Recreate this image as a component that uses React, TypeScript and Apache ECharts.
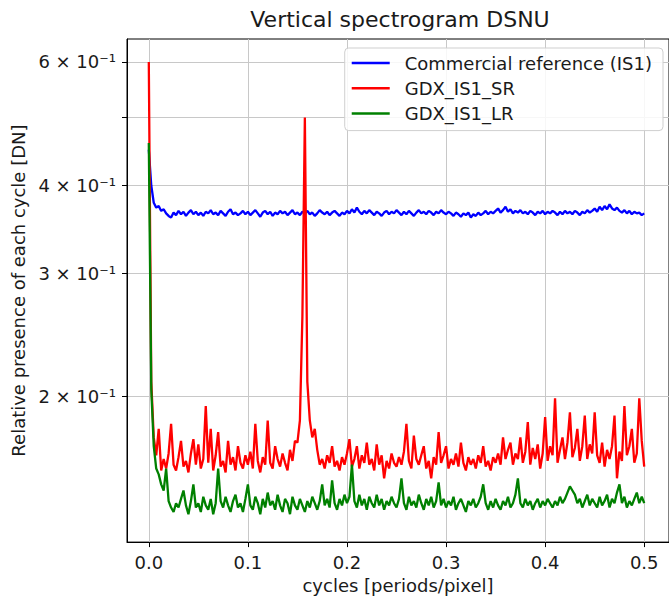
import React, { useEffect, useRef } from "react";
import * as echarts from "echarts";

const TITLE = "Vertical spectrogram DSNU";
const X_NAME = "cycles [periods/pixel]";
const Y_NAME = "Relative presence of each cycle [DN]";
const SERIES_NAMES = ["Commercial reference (IS1)", "GDX_IS1_SR", "GDX_IS1_LR"];
const SERIES_COLORS = ["#0000ff", "#ff0000", "#008000"];

const FREQ_STEP = 0.0025;
const X_TICKS = [0, 0.1, 0.2, 0.3, 0.4, 0.5];
const Y_TICKS = [0.2, 0.3, 0.4, 0.5, 0.6];
const Y_LABEL_TICKS = [0.2, 0.3, 0.4, 0.6];

const BLUE = [
  0.45, 0.40, 0.378, 0.372, 0.374, 0.368, 0.370, 0.365, 0.362, 0.360,
  0.366, 0.363, 0.368, 0.364, 0.367, 0.362, 0.366, 0.369, 0.364, 0.367,
  0.363, 0.366, 0.362, 0.367, 0.365, 0.369, 0.364, 0.366, 0.363, 0.368,
  0.365, 0.362, 0.367, 0.370, 0.364, 0.366, 0.363, 0.365, 0.368, 0.364,
  0.367, 0.363, 0.366, 0.369, 0.365, 0.361, 0.366, 0.368, 0.364, 0.367,
  0.362, 0.366, 0.364, 0.368, 0.365, 0.367, 0.363, 0.366, 0.369, 0.364,
  0.366, 0.363, 0.367, 0.365, 0.368, 0.364, 0.366, 0.362, 0.365, 0.369,
  0.366, 0.364, 0.367, 0.363, 0.366, 0.368, 0.365, 0.362, 0.366, 0.364,
  0.368, 0.365, 0.370, 0.366, 0.372, 0.367, 0.364, 0.368, 0.365, 0.369,
  0.366, 0.363, 0.367, 0.365, 0.362, 0.366, 0.368, 0.364, 0.367, 0.365,
  0.369, 0.366, 0.363, 0.367, 0.364, 0.368, 0.365, 0.362, 0.366, 0.369,
  0.365, 0.367, 0.364, 0.368, 0.366, 0.363, 0.367, 0.365, 0.369, 0.366,
  0.364, 0.367, 0.365, 0.362, 0.366, 0.364, 0.361, 0.365, 0.363, 0.366,
  0.360, 0.364, 0.362, 0.366, 0.363, 0.365, 0.368, 0.364, 0.367, 0.365,
  0.368, 0.371, 0.366, 0.369, 0.373, 0.367, 0.370, 0.365, 0.368, 0.366,
  0.369, 0.365, 0.367, 0.364, 0.368, 0.366, 0.363, 0.367, 0.365, 0.368,
  0.364, 0.367, 0.365, 0.368, 0.366, 0.363, 0.367, 0.364, 0.368, 0.365,
  0.367, 0.364, 0.368, 0.366, 0.363, 0.367, 0.365, 0.369, 0.366, 0.368,
  0.371, 0.367, 0.373, 0.369, 0.374, 0.370, 0.376, 0.371, 0.369, 0.372,
  0.368, 0.366, 0.369, 0.365, 0.368, 0.364, 0.367, 0.365, 0.366, 0.363,
  0.365,
];

const RED = [
  0.60, 0.21, 0.175, 0.165, 0.180, 0.157, 0.163, 0.158, 0.166, 0.183,
  0.160, 0.157, 0.164, 0.173, 0.159, 0.162, 0.156, 0.166, 0.174, 0.160,
  0.171, 0.158, 0.163, 0.194, 0.161, 0.180, 0.157, 0.165, 0.178, 0.159,
  0.162, 0.156, 0.173, 0.160, 0.164, 0.157, 0.170, 0.161, 0.158, 0.165,
  0.160, 0.167, 0.158, 0.183, 0.162, 0.156, 0.164, 0.160, 0.185, 0.161,
  0.158, 0.170, 0.163, 0.159, 0.166, 0.161, 0.157, 0.168, 0.162, 0.173,
  0.172, 0.185, 0.26, 0.50, 0.21, 0.185, 0.175, 0.180, 0.168, 0.160,
  0.163, 0.158, 0.165, 0.161, 0.170, 0.159, 0.162, 0.157, 0.164, 0.160,
  0.166, 0.174, 0.159, 0.163, 0.170, 0.158, 0.165, 0.161, 0.172, 0.160,
  0.163, 0.157, 0.171, 0.160, 0.165, 0.153, 0.162, 0.158, 0.166, 0.161,
  0.159, 0.164, 0.160, 0.167, 0.183, 0.162, 0.158, 0.176, 0.163, 0.160,
  0.165, 0.170, 0.158, 0.162, 0.153, 0.164, 0.160, 0.178, 0.161, 0.165,
  0.170, 0.158, 0.163, 0.160, 0.166, 0.159, 0.172, 0.161, 0.157, 0.164,
  0.160, 0.163, 0.158, 0.165, 0.161, 0.170, 0.159, 0.162, 0.157, 0.164,
  0.161, 0.166, 0.160, 0.175, 0.163, 0.168, 0.172, 0.160, 0.166, 0.163,
  0.175, 0.161, 0.167, 0.184, 0.160, 0.169, 0.163, 0.171, 0.158, 0.166,
  0.187, 0.162, 0.170, 0.165, 0.199, 0.161, 0.168, 0.175, 0.163, 0.172,
  0.190, 0.164, 0.169, 0.180, 0.162, 0.170, 0.188, 0.163, 0.171, 0.166,
  0.190, 0.165, 0.161, 0.172, 0.159, 0.168, 0.163, 0.170, 0.188, 0.153,
  0.167, 0.162, 0.194, 0.165, 0.170, 0.180, 0.161, 0.166, 0.199, 0.173,
  0.159,
];

const GREEN = [
  0.46, 0.205, 0.170, 0.158, 0.155, 0.150, 0.147, 0.158, 0.142, 0.139,
  0.137, 0.141, 0.139, 0.143, 0.147, 0.140, 0.136, 0.142, 0.150, 0.139,
  0.141, 0.137, 0.144, 0.140, 0.138, 0.143, 0.136, 0.141, 0.158, 0.142,
  0.139, 0.144, 0.140, 0.137, 0.142, 0.145, 0.139, 0.141, 0.137, 0.143,
  0.150, 0.140, 0.138, 0.144, 0.141, 0.136, 0.143, 0.139, 0.146, 0.140,
  0.142, 0.138, 0.145, 0.140, 0.137, 0.143, 0.141, 0.136, 0.144, 0.140,
  0.138, 0.143, 0.140, 0.137, 0.142, 0.139, 0.144, 0.141, 0.138, 0.142,
  0.150, 0.140, 0.143, 0.139, 0.152, 0.141, 0.138, 0.143, 0.140, 0.145,
  0.141, 0.144, 0.160, 0.142, 0.139, 0.145, 0.140, 0.143, 0.138, 0.144,
  0.141, 0.139, 0.145, 0.140, 0.143, 0.138, 0.142, 0.140, 0.144, 0.141,
  0.139, 0.143, 0.153, 0.141, 0.138, 0.144, 0.140, 0.142, 0.139, 0.145,
  0.141, 0.138, 0.143, 0.140, 0.144, 0.139, 0.142, 0.151, 0.140, 0.143,
  0.139, 0.142, 0.140, 0.144, 0.138, 0.141, 0.143, 0.140, 0.137, 0.142,
  0.140, 0.143, 0.139, 0.141, 0.144, 0.150, 0.141, 0.138, 0.142, 0.139,
  0.143, 0.140, 0.138, 0.142, 0.140, 0.144, 0.139, 0.141, 0.145, 0.153,
  0.141, 0.139, 0.143, 0.140, 0.142, 0.138, 0.141, 0.143, 0.139, 0.142,
  0.140, 0.143, 0.141, 0.139, 0.142, 0.140, 0.144, 0.141, 0.143, 0.146,
  0.149, 0.147, 0.145, 0.141, 0.143, 0.139, 0.142, 0.145, 0.140, 0.143,
  0.141, 0.139, 0.144, 0.140, 0.142, 0.145, 0.139, 0.143, 0.141, 0.146,
  0.150, 0.141, 0.144, 0.139, 0.142, 0.140, 0.143, 0.146, 0.141, 0.144,
  0.141,
];

const FONT = '"DejaVu Sans", sans-serif';
const TEXT_COLOR = "#1a1a1a";

function toPairs(vals: number[]) {
  return vals.map((v, i) => [i * FREQ_STEP, v]);
}

export default function App() {
  const ref = useRef<HTMLDivElement>(null);
  useEffect(() => {
    const chart = echarts.init(ref.current!, null, { renderer: "svg" });
    const allSeries = [BLUE, RED, GREEN];
    const option: any = {
      animation: false,
      backgroundColor: "#ffffff",
      graphic: [
        {
          type: "text",
          x: 400,
          y: 19,
          style: {
            text: TITLE,
            font: `22px ${FONT}`,
            fill: TEXT_COLOR,
            align: "center",
            verticalAlign: "middle",
            textAlign: "center",
            textVerticalAlign: "middle",
          },
        },
      ],
      grid: {
        show: true,
        left: 127,
        right: -4,
        top: 39,
        bottom: 56,
        borderColor: "#000",
        borderWidth: 1,
        backgroundColor: "transparent",
      },
      legend: {
        data: SERIES_NAMES,
        orient: "vertical",
        right: 6,
        top: 48,
        icon: "rect",
        itemWidth: 38,
        itemHeight: 2.5,
        itemGap: 7.3,
        padding: [6, 11, 8, 7],
        backgroundColor: "rgba(255,255,255,0.85)",
        borderColor: "#cfcfcf",
        borderWidth: 1,
        borderRadius: 4,
        textStyle: {
          fontFamily: FONT,
          fontSize: 18,
          lineHeight: 18,
          color: TEXT_COLOR,
          padding: [0, 0, 0, 10],
        },
      },
      xAxis: {
        type: "value",
        min: -0.022,
        max: 0.525,
        name: X_NAME,
        nameLocation: "middle",
        nameGap: 31,
        nameTextStyle: { fontFamily: FONT, fontSize: 18, color: TEXT_COLOR },
        axisLine: { show: true, onZero: false, lineStyle: { color: "#000", width: 1 } },
        axisTick: {
          show: true,
          inside: false,
          length: 5,
          lineStyle: { color: "#000", width: 1 },
          customValues: X_TICKS,
        },
        axisLabel: {
          show: true,
          margin: 11,
          fontFamily: FONT,
          fontSize: 18,
          color: TEXT_COLOR,
          customValues: X_TICKS,
          formatter: (v: number) => v.toFixed(1),
        },
        splitLine: { show: true, lineStyle: { color: "#c8c8c8", width: 1 } },
      },
      yAxis: {
        type: "log",
        logBase: 10,
        min: 0.1241,
        max: 0.647,
        name: Y_NAME,
        nameLocation: "middle",
        nameGap: 100,
        nameTextStyle: { fontFamily: FONT, fontSize: 18, color: TEXT_COLOR },
        axisLine: { show: true, onZero: false, lineStyle: { color: "#000", width: 1 } },
        axisTick: {
          show: true,
          inside: false,
          length: 5,
          lineStyle: { color: "#000", width: 1 },
          customValues: Y_TICKS,
        },
        axisLabel: {
          show: true,
          margin: 11,
          fontFamily: FONT,
          fontSize: 18,
          color: TEXT_COLOR,
          customValues: Y_LABEL_TICKS,
          formatter: (v: number) => `${Math.round(v * 10)} × 10⁻¹`,
        },
        splitLine: { show: true, lineStyle: { color: "#c8c8c8", width: 1 } },
      },
      series: SERIES_NAMES.map((name, k) => ({
        name,
        type: "line",
        data: toPairs(allSeries[k]),
        showSymbol: false,
        symbol: "none",
        clip: true,
        lineStyle: { color: SERIES_COLORS[k], width: 2.3 },
        itemStyle: { color: SERIES_COLORS[k] },
      })),
    };
    chart.setOption(option);
    return () => chart.dispose();
  }, []);
  return (
    <div
      ref={ref}
      style={{ position: "fixed", left: 0, top: 0, width: 669, height: 599, background: "#fff" }}
    />
  );
}
